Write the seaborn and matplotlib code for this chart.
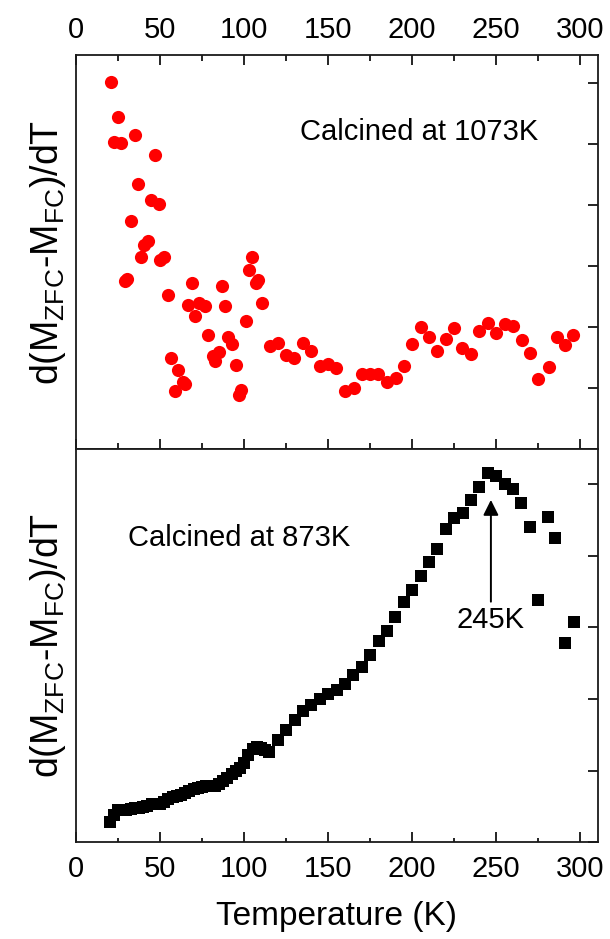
import matplotlib
matplotlib.use('Agg')
import matplotlib.pyplot as plt
import pandas as pd
import seaborn as sns
from matplotlib.ticker import MultipleLocator

# ---------------- data ----------------
top_T = [20.6, 22.6, 24.8, 26.9, 28.9, 30.1, 32.5, 35.1, 36.8, 38.6,
         40.4, 42.8, 44.6, 46.9, 49.1, 50.0, 52.5, 54.8, 56.8, 58.8,
         60.8, 63.4, 64.9, 66.7, 68.9, 70.7, 73.1, 76.8, 78.8, 81.2,
         82.8, 85.2, 86.7, 88.9, 90.7, 92.7, 94.9, 96.9, 98.4, 101.0,
         102.8, 104.6, 107.0, 108.5, 110.7, 115.3, 120.2, 124.8, 129.7, 135.1,
         140.0, 145.0, 149.9, 154.9, 159.8, 165.2, 170.0, 174.9, 179.9, 184.8,
         190.1, 194.9, 199.6, 205.0, 209.9, 214.9, 219.8, 224.8, 229.8, 234.9,
         239.9, 245.0, 249.7, 254.9, 260.2, 265.2, 270.2, 275.1, 281.2, 286.2,
         291.0, 295.9]
top_val = [5.02, 4.03, 4.44, 4.02, 1.75, 1.79, 2.74, 4.15, 3.34, 2.15,
           2.34, 2.41, 3.08, 3.82, 3.02, 2.10, 2.15, 1.52, 0.49, -0.05,
           0.30, 0.10, 0.07, 1.36, 1.72, 1.18, 1.39, 1.34, 0.87, 0.52,
           0.44, 0.59, 1.67, 1.34, 0.84, 0.72, 0.38, -0.11, -0.03, 1.10,
           1.93, 2.15, 1.72, 1.77, 1.39, 0.69, 0.74, 0.54, 0.49, 0.74,
           0.61, 0.36, 0.39, 0.33, -0.05, 0.00, 0.23, 0.23, 0.23, 0.10,
           0.16, 0.36, 0.72, 1.00, 0.84, 0.61, 0.80, 0.98, 0.66, 0.56,
           0.93, 1.07, 0.90, 1.05, 1.02, 0.79, 0.57, 0.15, 0.34, 0.84,
           0.70, 0.87]

bot_T = [20, 22.5, 25, 27.5, 30, 32.5, 35, 37.5, 40, 42.5,
         45, 47.5, 50, 52.5, 55, 57.5, 60, 62.5, 65, 67.5,
         70, 72.5, 75, 77.5, 80, 82.5, 85, 87.5, 90, 92.5,
         95, 97.5, 100, 102.5, 105, 107.5, 110, 112.5, 115,
         120, 125, 130, 135, 140, 145, 150, 155, 160, 165,
         170, 175, 180, 185, 190, 195, 200, 205, 210, 215,
         220, 225, 230, 235, 240, 245, 250, 255, 260, 265,
         270, 275, 281, 285, 291, 296]
bot_val = [0.29, 0.39, 0.46, 0.46, 0.46, 0.47, 0.48, 0.48, 0.50, 0.51,
           0.53, 0.54, 0.54, 0.57, 0.61, 0.64, 0.65, 0.66, 0.69, 0.72,
           0.75, 0.76, 0.78, 0.79, 0.79, 0.79, 0.82, 0.86, 0.90, 0.96,
           1.00, 1.04, 1.11, 1.22, 1.31, 1.33, 1.32, 1.29, 1.26,
           1.43, 1.57, 1.71, 1.84, 1.92, 2.00, 2.07, 2.13, 2.21, 2.33,
           2.45, 2.62, 2.81, 2.95, 3.15, 3.36, 3.52, 3.72, 3.91, 4.10,
           4.37, 4.53, 4.60, 4.78, 4.96, 5.15, 5.11, 5.00, 4.93, 4.74,
           4.40, 3.38, 4.54, 4.25, 2.78, 3.08]

x_ticks = [0, 50, 100, 150, 200, 250, 300]
ylabel_txt = r'd(M$_{\mathregular{ZFC}}$-M$_{\mathregular{FC}}$)/dT'

# ---------------- style ----------------
sns.set_theme(style='white')
plt.rcParams['font.family'] = ['Liberation Sans', 'DejaVu Sans']
plt.rcParams['mathtext.fontset'] = 'custom'
plt.rcParams['mathtext.rm'] = 'Liberation Sans'
plt.rcParams['mathtext.it'] = 'Liberation Sans'
plt.rcParams['mathtext.bf'] = 'Liberation Sans'
plt.rcParams['text.color'] = 'black'
plt.rcParams['axes.labelcolor'] = 'black'
plt.rcParams['xtick.color'] = 'black'
plt.rcParams['ytick.color'] = 'black'

fig = plt.figure(figsize=(6.1, 9.39), dpi=100)
ax1 = fig.add_axes([0.1246, 0.5218, 0.8557, 0.4196])
ax2 = fig.add_axes([0.1246, 0.1028, 0.8557, 0.4190])

df_top = pd.DataFrame({'T': top_T, 'v': top_val})
df_bot = pd.DataFrame({'T': bot_T, 'v': bot_val})

sns.scatterplot(data=df_top, x='T', y='v', ax=ax1, marker='o', color='#ff0000',
                s=90, linewidth=0, legend=False, zorder=3)
sns.scatterplot(data=df_bot, x='T', y='v', ax=ax2, marker='s', color='black',
                s=78, linewidth=0, legend=False, zorder=3)

for ax in (ax1, ax2):
    ax.set_xlim(0, 310.5)
    ax.set_xticks(x_ticks)
    ax.xaxis.set_minor_locator(MultipleLocator(25))
    ax.yaxis.set_major_locator(MultipleLocator(1))
    for sp in ax.spines.values():
        sp.set_visible(True)
        sp.set_color('#1a1a1a')
        sp.set_linewidth(1.3)
    ax.set_xlabel('')
    ax.set_ylabel(ylabel_txt, fontsize=27, labelpad=6)

ax1.set_ylim(-1.0, 5.46)
ax2.set_ylim(0.0, 5.49)

# top panel ticks
ax1.tick_params(axis='x', which='both', direction='in', top=True, bottom=True,
                labeltop=True, labelbottom=False, labelsize=21, pad=8)
ax1.tick_params(axis='x', which='major', length=7, width=1.2)
ax1.tick_params(axis='x', which='minor', length=4, width=1.2)
ax1.tick_params(axis='y', which='both', direction='in', left=False, right=True,
                labelleft=False, labelright=False, length=7, width=1.2)

# bottom panel ticks
ax2.tick_params(axis='x', which='both', direction='in', top=False, bottom=True,
                labeltop=False, labelbottom=True, labelsize=21, pad=9)
ax2.tick_params(axis='x', which='major', length=7, width=1.2)
ax2.tick_params(axis='x', which='minor', length=3, width=1.2)
ax2.tick_params(axis='y', which='both', direction='in', left=False, right=True,
                labelleft=False, labelright=False, length=7, width=1.2)

ax2.set_xlabel('Temperature (K)', fontsize=24, labelpad=13)

# annotations
ax1.text(133, 4.07, 'Calcined at 1073K', fontsize=21, ha='left', va='baseline')
ax2.text(30.8, 4.14, 'Calcined at 873K', fontsize=21, ha='left', va='baseline')
ax2.annotate('', xy=(246.8, 4.78), xytext=(246.8, 3.36),
             arrowprops=dict(arrowstyle='-|>', color='black', lw=1.4,
                             mutation_scale=23, shrinkA=0, shrinkB=0))
ax2.text(246.5, 3.10, '245K', fontsize=21, ha='center', va='center')

fig.savefig('out.png', dpi=100)
